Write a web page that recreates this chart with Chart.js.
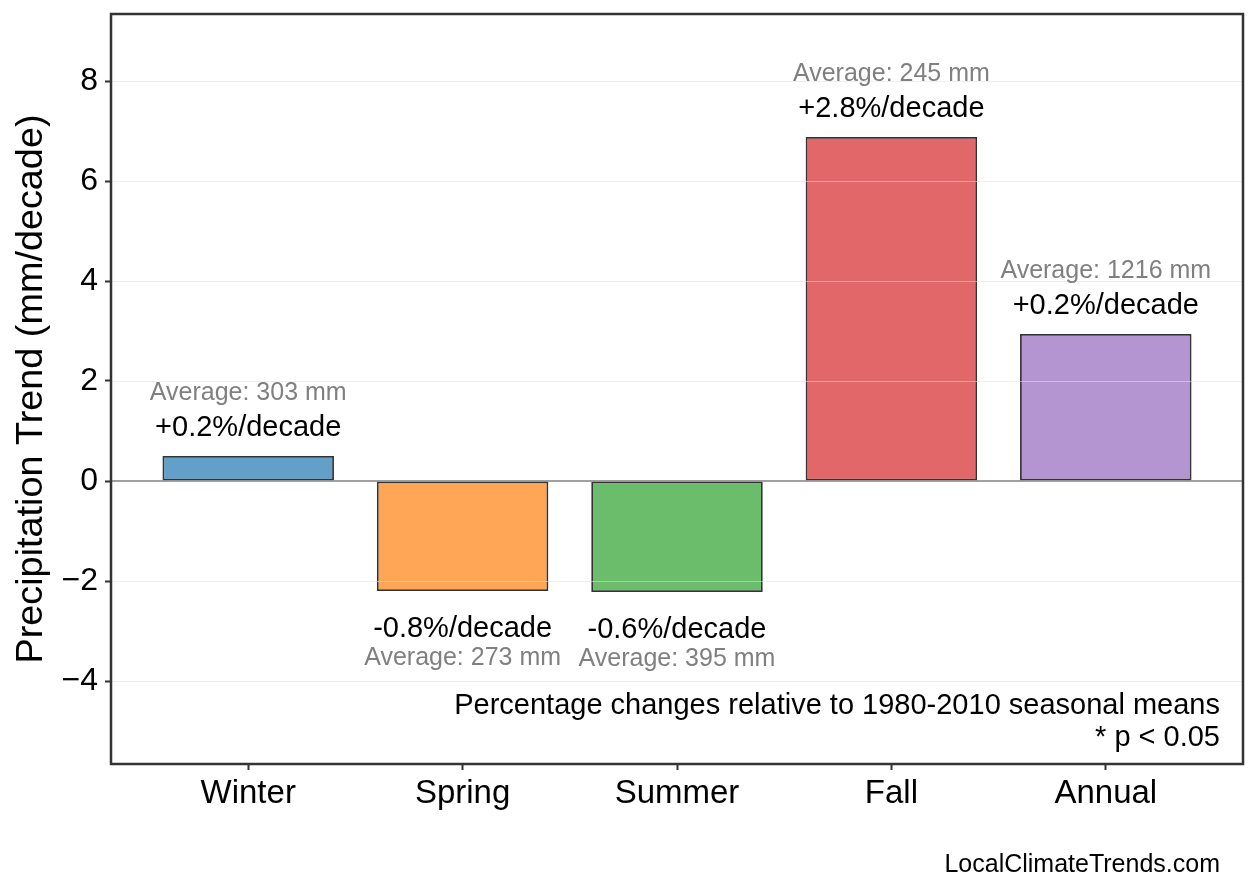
<!DOCTYPE html>
<html>
<head>
<meta charset="utf-8">
<script src="https://cdn.jsdelivr.net/npm/chart.js@4"></script>
<style>
  html, body { margin: 0; padding: 0; background: #fff; }
  #wrap { width: 1258px; height: 893px; }
</style>
</head>
<body>
<div id="wrap"><canvas id="trendChart" width="1258" height="893"></canvas></div>
<script>
// seasons and their trends (mm/decade)
const seasons = ['Winter', 'Spring', 'Summer', 'Fall', 'Annual'];
const trendValues = [0.5, -2.2, -2.22, 6.88, 2.94];
const trendLabels = ['+0.2%/decade', '-0.8%/decade', '-0.6%/decade', '+2.8%/decade', '+0.2%/decade'];
const averages = [303, 273, 395, 245, 1216];
const yTickValues = [-4, -2, 0, 2, 4, 6, 8];

const barColors = [
    'rgba(31,119,180,0.7)',
    'rgba(255,127,14,0.7)',
    'rgba(44,160,44,0.7)',
    'rgba(214,39,40,0.7)',
    'rgba(148,103,189,0.7)'
];

const FONT = "'Liberation Sans', Arial, Helvetica, sans-serif";

// grid over bars, zero line, frame and text annotations
const overlay = {
    id: 'overlay',
    afterDatasetsDraw(chart) {
        const ctx = chart.ctx;
        const area = chart.chartArea;
        const y = chart.scales.y;
        ctx.save();
        ctx.strokeStyle = 'rgba(225,225,225,0.55)';
        ctx.lineWidth = 1;
        yTickValues.forEach((v) => {
            if (v === 0) return;
            const py = Math.round(y.getPixelForValue(v)) + 0.5;
            ctx.beginPath();
            ctx.moveTo(area.left, py);
            ctx.lineTo(area.right, py);
            ctx.stroke();
        });
        // zero line
        ctx.strokeStyle = '#808080';
        ctx.lineWidth = 1.5;
        const zy = y.getPixelForValue(0);
        ctx.beginPath();
        ctx.moveTo(area.left, zy);
        ctx.lineTo(area.right, zy);
        ctx.stroke();

        // labels above / below each bar
        const meta = chart.getDatasetMeta(0);
        ctx.textAlign = 'center';
        ctx.textBaseline = 'middle';
        meta.data.forEach((bar, i) => {
            const up = trendValues[i] >= 0;
            ctx.fillStyle = '#000';
            ctx.font = '29px ' + FONT;
            ctx.fillText(trendLabels[i], bar.x, up ? bar.y - 28 : bar.y + 38);
            ctx.fillStyle = '#808080';
            ctx.font = '25px ' + FONT;
            ctx.fillText('Average: ' + averages[i] + ' mm', bar.x, up ? bar.y - 63 : bar.y + 67);
        });

        // notes in the lower right
        ctx.textAlign = 'right';
        ctx.fillStyle = '#000';
        ctx.font = '29px ' + FONT;
        ctx.fillText('Percentage changes relative to 1980-2010 seasonal means', area.right - 23, area.bottom - 58);
        ctx.fillText('* p < 0.05', area.right - 23, area.bottom - 26);
        ctx.restore();
    },
    afterDraw(chart) {
        const ctx = chart.ctx;
        const area = chart.chartArea;
        ctx.save();
        ctx.strokeStyle = '#333';
        ctx.lineWidth = 2.5;
        ctx.strokeRect(area.left, area.top, area.right - area.left, area.bottom - area.top);
        ctx.fillStyle = '#000';
        ctx.font = '25px ' + FONT;
        ctx.textAlign = 'right';
        ctx.textBaseline = 'middle';
        ctx.fillText('LocalClimateTrends.com', area.right - 23, 865);
        ctx.restore();
    }
};

const chart = new Chart(document.getElementById('trendChart'), {
    type: 'bar',
    data: {
        datasets: [{
            data: trendValues.map((v, i) => ({ x: i, y: v })),
            backgroundColor: barColors,
            borderColor: 'rgba(0,0,0,0.8)',
            borderWidth: 1.8,
            borderSkipped: false,
            barPercentage: 0.8,
            categoryPercentage: 1.0
        }]
    },
    options: {
        responsive: false,
        animation: false,
        devicePixelRatio: 1,
        layout: { padding: { top: 14, right: 15, bottom: 0, left: 0 } },
        plugins: {
            legend: { display: false },
            tooltip: { enabled: false }
        },
        scales: {
            x: {
                type: 'linear',
                offset: false,
                min: -0.64,
                max: 4.64,
                afterBuildTicks: (scale) => {
                    scale.ticks = seasons.map((s, i) => ({ value: i }));
                },
                afterFit: (scale) => {
                    scale.height = 129;
                    scale.paddingLeft = 0;
                    scale.paddingRight = 0;
                },
                ticks: {
                    callback: (v) => seasons[v],
                    color: '#000',
                    font: { family: FONT, size: 33 },
                    padding: 4,
                    maxRotation: 0,
                    autoSkip: false
                },
                grid: {
                    offset: false,
                    drawOnChartArea: false,
                    drawTicks: true,
                    tickLength: 6,
                    tickWidth: 2,
                    tickColor: '#333'
                },
                border: { display: false }
            },
            y: {
                min: -5.66,
                max: 9.34,
                afterBuildTicks: (scale) => {
                    scale.ticks = yTickValues.map((v) => ({ value: v }));
                },
                afterFit: (scale) => {
                    scale.width = 111;
                    scale.paddingTop = 0;
                    scale.paddingBottom = 0;
                },
                ticks: {
                    callback: (v) => String(v).replace('-', '\u2212'),
                    color: '#000',
                    font: { family: FONT, size: 32 },
                    padding: 7
                },
                grid: {
                    drawOnChartArea: false,
                    drawTicks: true,
                    tickLength: 6,
                    tickWidth: 2,
                    tickColor: '#333'
                },
                border: { display: false },
                title: {
                    display: true,
                    text: 'Precipitation Trend (mm/decade)',
                    color: '#000',
                    font: { family: FONT, size: 37.8 },
                    padding: { top: 9, bottom: 0 }
                }
            }
        }
    },
    plugins: [overlay]
});
</script>
</body>
</html>
